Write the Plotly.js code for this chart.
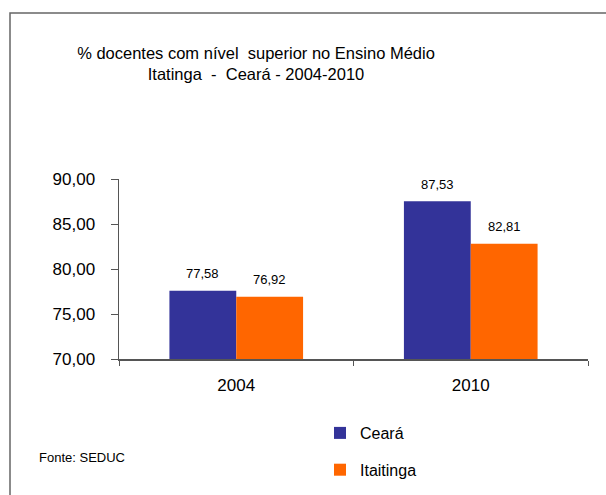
<!DOCTYPE html>
<html>
<head>
<meta charset="utf-8">
<script src="https://cdn.plot.ly/plotly-3.0.1.min.js"></script>
<style>html,body{margin:0;padding:0;background:#fff;}#chart{width:606px;height:495px;}</style>
</head>
<body>
<div id="chart"></div>
<script>
const categories = ['2004', '2010'];
const seriesNames = ['Ceará', 'Itaitinga'];
const cearaValues = [77.58, 87.53];
const itaitingaValues = [76.92, 82.81];
const seriesColors = ['#333399', '#FF6600'];
const yTickValues = [70, 75, 80, 85, 90];

const FONT = 'Liberation Sans, Arial, sans-serif';
const allSeries = [cearaValues, itaitingaValues];

const traces = allSeries.map((vals, i) => ({
  type: 'bar',
  name: seriesNames[i],
  x: categories,
  y: vals,
  marker: {color: seriesColors[i], line: {width: 0}},
  legendgroup: 'g' + i,
  hoverinfo: 'skip'
}));

const annotations = [];
allSeries.forEach((vals, i) => {
  vals.forEach((v, j) => {
    annotations.push({
      x: j, y: v, xref: 'x', yref: 'y',
      text: v.toFixed(2).replace('.', ','),
      showarrow: false, yanchor: 'middle', xanchor: 'center',
      xshift: i === 0 ? -33.5 : 33.5, yshift: 17,
      font: {family: FONT, size: 13, color: '#000'}
    });
  });
});
annotations.push({
  xref: 'paper', yref: 'paper', x: (37 - 119) / 469, y: (359 - 457) / 180,
  xanchor: 'left', yanchor: 'middle', showarrow: false,
  text: 'Fonte: SEDUC', font: {family: FONT, size: 13, color: '#000'}
});

const layout = {
  width: 606, height: 495,
  margin: {l: 119, r: 18, t: 179, b: 136, pad: 0, autoexpand: false},
  paper_bgcolor: '#fff', plot_bgcolor: '#fff',
  separators: ',.',
  font: {family: FONT, color: '#000'},
  title: {
    text: '% docentes com nível  superior no Ensino Médio<br>Itatinga  -  Ceará - 2004-2010',
    x: 256 / 606, xref: 'container', xanchor: 'center',
    y: 1 - 59 / 495, yref: 'container', yanchor: 'middle',
    font: {family: FONT, size: 16.5, color: '#000'}
  },
  barmode: 'group', bargap: 0.43, bargroupgap: 0,
  xaxis: {
    type: 'category', showgrid: false, zeroline: false, automargin: false,
    range: [-0.5, 1.5], tickangle: 0,
    showline: true, linecolor: '#555', linewidth: 1.5,
    ticks: 'outside', tickson: 'boundaries', ticklen: 5, tickcolor: '#555',
    ticklabelstandoff: 10,
    tickfont: {family: FONT, size: 17, color: '#000'}
  },
  yaxis: {
    range: [70, 90], tickvals: yTickValues, tickformat: '.2f', automargin: false,
    showgrid: false, zeroline: false,
    showline: true, linecolor: '#555', linewidth: 1.5,
    ticks: 'outside', ticklen: 7, tickcolor: '#555',
    ticklabelstandoff: 12,
    tickfont: {family: FONT, size: 17, color: '#000'}
  },
  showlegend: true,
  legend: {
    x: (320 - 119) / 469, xanchor: 'left',
    y: (359 - 416) / 180, yanchor: 'top',
    traceorder: 'grouped', tracegroupgap: 13,
    font: {family: FONT, size: 16, color: '#000'},
    itemwidth: 30, bgcolor: 'rgba(0,0,0,0)'
  },
  annotations: annotations,
  shapes: [{
    type: 'rect', xref: 'paper', yref: 'paper',
    x0: (10 - 119) / 469, x1: 2, y0: -2, y1: (359 - 13) / 180,
    line: {color: '#666', width: 1.5}, fillcolor: 'rgba(0,0,0,0)'
  }]
};

Plotly.newPlot('chart', traces, layout, {displayModeBar: false, staticPlot: true});
</script>
</body>
</html>
